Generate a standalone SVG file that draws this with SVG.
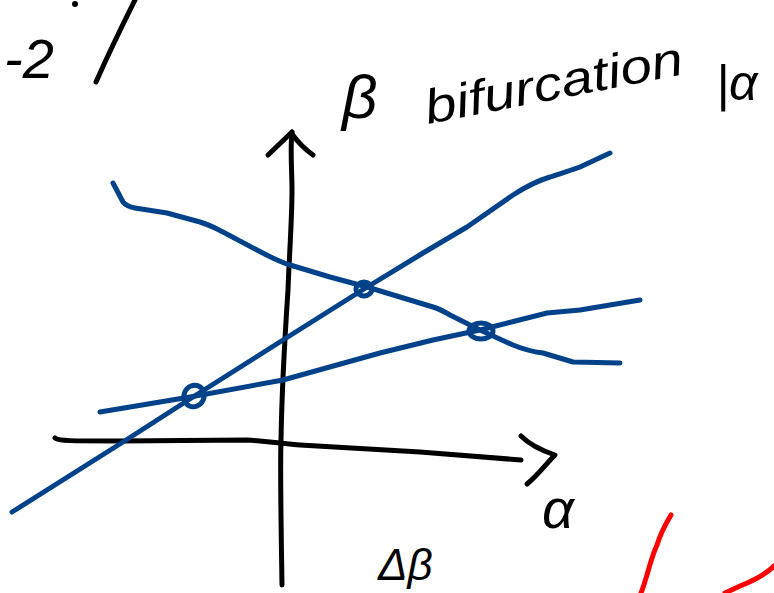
<svg xmlns="http://www.w3.org/2000/svg" width="774" height="593" viewBox="0 0 774 593">
<style>
.k{fill:none;stroke:#000;stroke-width:5;stroke-linecap:round;stroke-linejoin:round}
.b{fill:none;stroke:#00428a;stroke-width:5;stroke-linecap:round;stroke-linejoin:round}
.r{fill:none;stroke:#ff0000;stroke-width:5;stroke-linecap:round;stroke-linejoin:round}
.t{font-family:"Liberation Sans","DejaVu Sans",sans-serif;font-style:italic;fill:#000}
</style>
<rect width="774" height="593" fill="#fff"/>
<g id="axes">
<path class="k" d="M282,585 C281,520 280,470 281,440 C282,380 286,320 288,290 C289,260 292,220 292,190 C292,170 290,150 292,132"/>
<path class="k" d="M268,155 L292,132 M292,134 C300,145 306,150 313,155"/>
<path class="k" d="M55,438 C58,441 70,441 120,441 L247,440 C265,441 275,443 300,445 L420,452 L521,460"/>
<path class="k" d="M521,436 C530,445 540,450 555,455 C545,465 538,475 527,484"/>
</g>
<g id="curves">
<path class="b" d="M12,512 L123,442 L193,397 L283,340 L364,289 L423,253 L467,227 L513,195 C530,184 540,180 550,177 C565,172 575,169 580,167 L610,153"/>
<path class="b" d="M100,412 L190,397 L283,380 L380,353 L433,340 L480,330 L547,313 L580,310 L640,300"/>
<path class="b" d="M113,183 L123,202 C126,206 130,207 135,208 L167,213 L200,222 C210,225 215,228 223,232 L257,250 C270,257 280,262 290,265 L330,277 L367,287 L400,297 L433,307 C440,309 445,312 450,315 L480,330 L513,345 C525,350 535,352 543,353 L573,362 L620,363"/>
</g>
<g id="intersections">
<ellipse class="b" cx="194" cy="396" rx="10" ry="11" transform="rotate(25 194 396)"/>
<ellipse class="b" cx="364" cy="289" rx="8" ry="7" stroke-width="6"/>
<ellipse class="b" cx="481" cy="331" rx="12" ry="8"/>
</g>
<g id="marks">
<path class="k" d="M135,0 C120,30 108,55 96,82"/>
<circle cx="75" cy="4" r="3" fill="#000"/>
<path class="r" d="M671,515 C665,525 660,535 657,545 C650,560 648,575 641,593"/>
<path class="r" d="M774,566 C765,575 755,580 740,586 L725,593"/>
</g>
<g id="labels">
<text class="t" x="4" y="78" font-size="56">-2</text>
<text class="t" x="342" y="118" font-size="62">β</text>
<text class="t" x="428" y="124" font-size="48" transform="rotate(-11 428 124)" textLength="262" lengthAdjust="spacingAndGlyphs">bifurcation</text>
<text class="t" x="716" y="100" font-size="50">|α</text>
<text class="t" x="542" y="528" font-size="56">α</text>
<text class="t" x="378" y="580" font-size="44">Δβ</text>
</g>
</svg>
